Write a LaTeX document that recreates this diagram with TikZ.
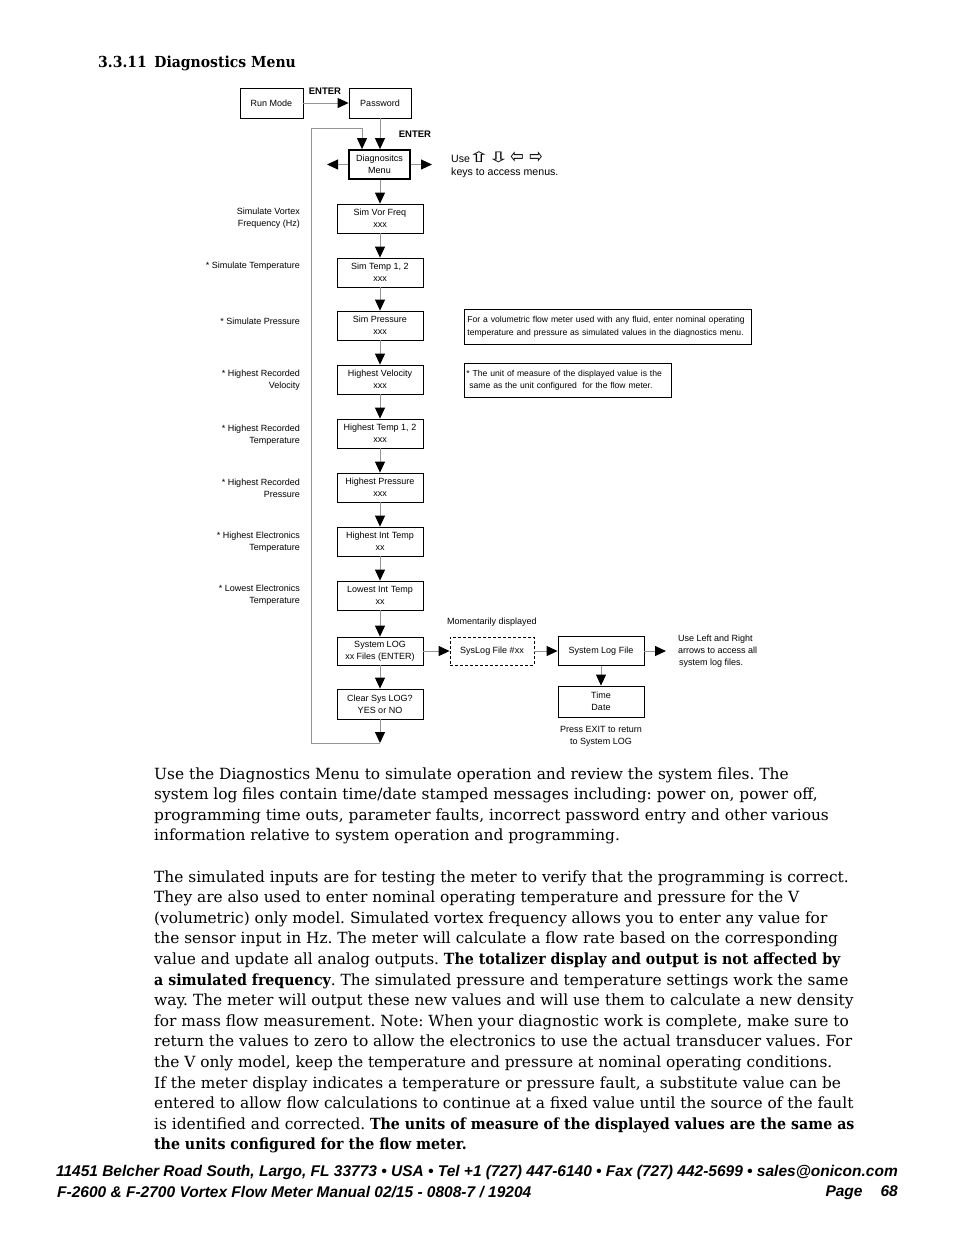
\documentclass[tikz,border=0pt]{standalone}
\usepackage{fontspec}
\usepackage{graphicx}
\setmainfont{DejaVu Serif}[BoldFeatures={FakeStretch=0.92}]
\newfontfamily\dfont{Liberation Sans}
\newfontfamily\symf{DejaVu Sans}
\usetikzlibrary{arrows.meta}
\definecolor{conncol}{gray}{0.58}
\frenchspacing
\begin{document}
\begin{tikzpicture}[x=1pt,y=-1pt,
  dtext/.style={font=\dfont\fontsize{9}{12}\selectfont},
  ntext/.style={font=\dfont\fontsize{8.6}{12.5}\selectfont},
  mbox/.style={draw, line width=0.8pt, dtext, align=center, minimum width=86pt, minimum height=29pt, inner sep=1pt},
  notebox/.style={draw, line width=0.8pt, ntext, align=left, anchor=north west, inner sep=0pt},
  conn/.style={draw=conncol, line width=1pt, -{Triangle[width=10pt,length=11pt,color=black]}},
  lbl/.style={dtext, align=right, anchor=east, inner sep=0pt},
  enter/.style={font=\dfont\bfseries\fontsize{9.5}{11}\selectfont, inner sep=0pt},
  usetext/.style={font=\dfont\fontsize{10.6}{12}\selectfont, anchor=west, inner sep=0pt},
  keyarrow/.style={font=\symf\fontsize{16}{16}\selectfont, inner sep=0pt},
  body/.style={font=\fontsize{15.4}{20.6}\selectfont, anchor=base west, inner sep=0pt},
  foot/.style={font=\dfont\bfseries\itshape\fontsize{15.5}{18}\selectfont, inner sep=0pt}
]
\fill[white] (0,0) rectangle (954,1235);
\useasboundingbox (0,0) rectangle (954,1235);

% title
\node[font=\bfseries\fontsize{15.2}{17}\selectfont, anchor=west, inner sep=0pt] (title) at (98,63) {3.3.11\enspace Diagnostics Menu};

% top
\node[mbox, minimum width=63pt, minimum height=30pt] (run) at (271.5,103) {Run Mode};
\node[mbox, minimum width=62pt, minimum height=30pt] (pwd) at (380,103) {Password};
\node[enter] (e1) at (325,91) {ENTER};
\node[enter] (e2) at (415,134) {ENTER};
\node[mbox, line width=1.8pt, minimum width=61pt, minimum height=29pt] (menu) at (379.5,164.5) {Diagnositcs\\Menu};

\node[usetext] (use1) at (451,159) {Use};
\node[keyarrow] (ka1) at (479,157.5) {\scalebox{1.7}[0.9]{⇧}};
\node[keyarrow] (ka2) at (498.5,157.5) {\scalebox{1.7}[0.9]{⇩}};
\node[keyarrow] (ka3) at (517,157.5) {\scalebox{1}[1.3]{⇦}};
\node[keyarrow] (ka4) at (536,157.5) {\scalebox{1}[1.3]{⇨}};
\node[usetext] (use2) at (451,172.5) {keys to access menus.};

% main column
\node[mbox] (svf) at (380,218.5) {Sim Vor Freq\\xxx};
\node[mbox] (st)  at (380,272.5) {Sim Temp 1, 2\\xxx};
\node[mbox] (sp)  at (380,325.5) {Sim Pressure\\xxx};
\node[mbox] (hv)  at (380,379.5) {Highest Velocity\\xxx};
\node[mbox] (ht)  at (380,433.5) {Highest Temp 1, 2\\xxx};
\node[mbox] (hp)  at (380,487.5) {Highest Pressure\\xxx};
\node[mbox] (hit) at (380,541.5) {Highest Int Temp\\xx};
\node[mbox] (lit) at (380,595.5) {Lowest Int Temp\\xx};
\node[mbox, minimum height=28pt] (sl)  at (380,651) {System LOG\\xx Files (ENTER)};
\node[mbox, minimum height=30pt] (clr) at (380,704) {Clear Sys LOG?\\YES or NO};

% left labels
\node[lbl] (l1) at (300,218.5) {Simulate Vortex\\Frequency (Hz)};
\node[lbl] (l2) at (300,266) {* Simulate Temperature};
\node[lbl] (l3) at (300,321) {* Simulate Pressure};
\node[lbl] (l4) at (300,380.5) {* Highest Recorded\\Velocity};
\node[lbl] (l5) at (300,435) {* Highest Recorded\\Temperature};
\node[lbl] (l6) at (300,488.5) {* Highest Recorded\\Pressure};
\node[lbl] (l7) at (300,542) {* Highest Electronics\\Temperature};
\node[lbl] (l8) at (300,595) {* Lowest Electronics\\Temperature};

% notes
\node[notebox, minimum width=287pt, minimum height=35pt, text width=281pt, inner xsep=3pt] (n1) at (464,309)
  {For a volumetric flow meter used with any fluid, enter nominal operating\\temperature and pressure as simulated values in the diagnostics menu.};
\node[notebox, minimum width=207pt, minimum height=34pt, text width=203pt, inner xsep=2pt] (n2) at (464,363)
  {* The unit of measure of the displayed value is the\\\hspace*{3pt}same as the unit configured\ \ for the flow meter.};

% system log branch
\node[mbox, dashed, dash pattern=on 3pt off 2pt, minimum width=84pt, minimum height=28pt] (slf) at (492,651) {SysLog File \#xx};
\node[dtext, inner sep=0pt] (mom) at (492,622) {Momentarily displayed};
\node[mbox] (log) at (601,651) {System Log File};
\node[mbox, minimum height=31pt] (td) at (601,701.5) {Time\\Date};
\node[dtext, align=center, inner sep=0pt] (pex) at (601,736) {Press EXIT to return\\to System LOG};
\node[dtext, align=left, anchor=west, inner sep=0pt] (ulr) at (678,651) {Use Left and Right\\arrows to access all\\\hspace*{1pt}system log files.};

% coordinates
\coordinate (ml) at (327,164.5);
\coordinate (mr) at (432,164.5);
\coordinate (bt) at (380,743);
\coordinate (lc) at (311,743);
\coordinate (lt) at (362,128);
\coordinate (lr) at (666,651);

% connectors
\draw[conn] (run) -- (pwd);
\draw[conn] (pwd.south) -- (pwd.south |- menu.north);
\draw[conn] (menu.west) -- (ml);
\draw[conn] (menu.east) -- (mr);
\draw[conn] (menu.south -| svf.north) -- (svf.north);
\draw[conn] (svf) -- (st);
\draw[conn] (st) -- (sp);
\draw[conn] (sp) -- (hv);
\draw[conn] (hv) -- (ht);
\draw[conn] (ht) -- (hp);
\draw[conn] (hp) -- (hit);
\draw[conn] (hit) -- (lit);
\draw[conn] (lit) -- (sl);
\draw[conn] (sl) -- (clr);
\draw[conn] (clr) -- (bt);
\draw[conn] (bt) -- (lc) |- (lt) -- (lt |- menu.north);
\draw[conn] (sl) -- (slf);
\draw[conn] (slf) -- (log);
\draw[conn] (log.east) -- (lr);
\draw[conn] (log) -- (td);

% body text
\node[body] (b1) at (154,779.0) {Use the Diagnostics Menu to simulate operation and review the system files. The};
\node[body] (b2) at (154,799.6) {system log files contain time/date stamped messages including: power on, power off,};
\node[body] (b3) at (154,820.2) {programming time outs, parameter faults, incorrect password entry and other various};
\node[body] (b4) at (154,840.8) {information relative to system operation and programming.};
\node[body] (b5) at (154,882.0) {The simulated inputs are for testing the meter to verify that the programming is correct.};
\node[body] (b6) at (154,902.6) {They are also used to enter nominal operating temperature and pressure for the V};
\node[body] (b7) at (154,923.2) {(volumetric) only model. Simulated vortex frequency allows you to enter any value for};
\node[body] (b8) at (154,943.8) {the sensor input in Hz. The meter will calculate a flow rate based on the corresponding};
\node[body] (b9) at (154,964.4) {value and update all analog outputs. \textbf{The totalizer display and output is not affected by}};
\node[body] (b10) at (154,985.0) {\textbf{a simulated frequency}. The simulated pressure and temperature settings work the same};
\node[body] (b11) at (154,1005.6) {way. The meter will output these new values and will use them to calculate a new density};
\node[body] (b12) at (154,1026.2) {for mass flow measurement. Note: When your diagnostic work is complete, make sure to};
\node[body] (b13) at (154,1046.8) {return the values to zero to allow the electronics to use the actual transducer values. For};
\node[body] (b14) at (154,1067.4) {the V only model, keep the temperature and pressure at nominal operating conditions.};
\node[body] (b15) at (154,1088.0) {If the meter display indicates a temperature or pressure fault, a substitute value can be};
\node[body] (b16) at (154,1108.6) {entered to allow flow calculations to continue at a fixed value until the source of the fault};
\node[body] (b17) at (154,1129.2) {is identified and corrected. \textbf{The units of measure of the displayed values are the same as}};
\node[body] (b18) at (154,1149.8) {\textbf{the units configured for the flow meter.}};

% footer
\node[foot] (f1) at (477,1172.5) {11451 Belcher Road South, Largo, FL 33773 • USA • Tel +1 (727) 447-6140 • Fax (727) 442-5699 • sales@onicon.com};
\node[foot, anchor=west] (f2) at (57,1192.5) {F-2600 \& F-2700 Vortex Flow Meter Manual 02/15 - 0808-7 / 19204};
\node[foot, anchor=east] (f3) at (898,1192.5) {Page\hspace{18pt}68};
\end{tikzpicture}
\end{document}
